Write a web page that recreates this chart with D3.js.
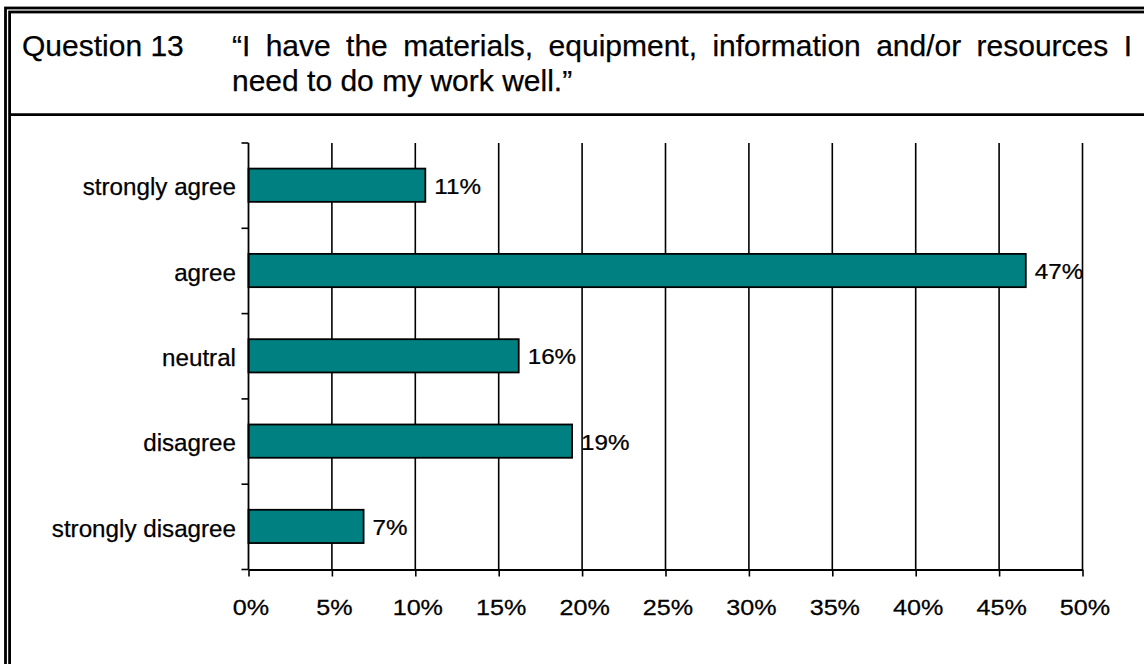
<!DOCTYPE html>
<html>
<head>
<meta charset="utf-8">
<script src="https://cdn.jsdelivr.net/npm/d3@7"></script>
<style>
  html, body { margin: 0; padding: 0; background: #fff; }
  svg { display: block; font-family: "Liberation Sans", Arial, sans-serif; }
</style>
</head>
<body>
<svg id="chart" width="1144" height="664"></svg>
<script>
// Survey responses, question 13
const questionLabel = "Question 13";
const questionLines = [
  "\u201CI have the materials, equipment, information and/or resources I",
  "need to do my work well.\u201D"
];
const categories = ["strongly agree", "agree", "neutral", "disagree", "strongly disagree"];
const percentages = [10.6, 46.6, 16.2, 19.4, 6.9];
const tickValues = [0, 5, 10, 15, 20, 25, 30, 35, 40, 45, 50];

const svg = d3.select("#chart");

// Double frame around the page
svg.append("rect").attr("x", 5.5).attr("y", 8).attr("width", 1300).attr("height", 800)
  .attr("fill", "none").attr("stroke", "#000").attr("stroke-width", 2.8);
svg.append("rect").attr("x", 9.6).attr("y", 12).attr("width", 1300).attr("height", 800)
  .attr("fill", "none").attr("stroke", "#000").attr("stroke-width", 2.8);
// Separator under the question header
svg.append("line").attr("x1", 9.6).attr("x2", 1144).attr("y1", 114.7).attr("y2", 114.7)
  .attr("stroke", "#000").attr("stroke-width", 2.8);

// Header text
const headerFont = 30;
const ink = { fill: "#000", stroke: "#000", "stroke-width": 0.25 };
function inked(sel) {
  Object.entries(ink).forEach(([k, v]) => sel.attr(k, v));
  return sel;
}
inked(svg.append("text").attr("x", 22).attr("y", 56).attr("font-size", headerFont))
  .text(questionLabel);

// First line is justified between the left and right text margins
const textLeft = 232, textRight = 1132;
(function justify(line, y) {
  const words = line.split(" ");
  const g = svg.append("g");
  const nodes = words.map(w => inked(g.append("text").attr("y", y).attr("font-size", headerFont)).text(w));
  const widths = nodes.map(n => n.node().getComputedTextLength());
  const total = d3.sum(widths);
  const gap = (textRight - textLeft - total) / (words.length - 1);
  let x = textLeft;
  nodes.forEach((n, i) => { n.attr("x", x); x += widths[i] + gap; });
})(questionLines[0], 56);
inked(svg.append("text").attr("x", textLeft).attr("y", 91).attr("font-size", headerFont))
  .text(questionLines[1]);

// Plot area
const plot = { left: 248.5, right: 1082.5, top: 143, bottom: 569.5 };

const x = d3.scaleLinear().domain([0, 50]).range([plot.left, plot.right]);
const slot = d3.scaleBand().domain(categories).range([plot.top, plot.bottom]).padding(0);
const barOffset = slot.bandwidth() * 0.3;
const barHeight = slot.bandwidth() * 0.39;

// Vertical gridlines
svg.append("g").selectAll("line")
  .data(tickValues.filter(v => v > 0))
  .join("line")
  .attr("x1", d => x(d)).attr("x2", d => x(d))
  .attr("y1", plot.top).attr("y2", plot.bottom)
  .attr("stroke", "#000").attr("stroke-width", 1.6);

// Bars
svg.append("g").selectAll("rect")
  .data(categories)
  .join("rect")
  .attr("x", x(0))
  .attr("y", d => slot(d) + barOffset)
  .attr("width", (d, i) => x(percentages[i]) - x(0))
  .attr("height", barHeight)
  .attr("fill", "#008080")
  .attr("stroke", "#000")
  .attr("stroke-width", 1.8);

// Value labels
const numScale = 1.1;
inked(svg.append("g").selectAll("text")
  .data(categories)
  .join("text")
  .attr("transform", (d, i) =>
    `translate(${x(percentages[i]) + 9},${slot(d) + slot.bandwidth() / 2 + 8}) scale(${numScale},1)`)
  .attr("font-size", 22))
  .text((d, i) => Math.round(percentages[i]) + "%");

// Category axis: ticks at slot boundaries
const yAxis = svg.append("g");
yAxis.append("line").attr("x1", plot.left).attr("x2", plot.left)
  .attr("y1", plot.top).attr("y2", plot.bottom)
  .attr("stroke", "#000").attr("stroke-width", 1.8);
const boundaries = categories.map(c => slot(c)).concat([plot.bottom]);
yAxis.selectAll("line.tick").data(boundaries).join("line").attr("class", "tick")
  .attr("x1", plot.left - 7).attr("x2", plot.left)
  .attr("y1", d => d).attr("y2", d => d)
  .attr("stroke", "#000").attr("stroke-width", 1.6);
inked(yAxis.selectAll("text").data(categories).join("text")
  .attr("x", 236)
  .attr("y", d => slot(d) + slot.bandwidth() / 2)
  .attr("dy", "0.4em")
  .attr("text-anchor", "end")
  .attr("font-size", 24.2))
  .text(d => d);

// Value axis along the bottom
const xAxis = d3.axisBottom(x)
  .tickValues(tickValues)
  .tickSize(7)
  .tickPadding(0)
  .tickSizeOuter(0)
  .tickFormat(d => d + "%");
const gx = svg.append("g").attr("transform", `translate(0,${plot.bottom})`).call(xAxis);
gx.select(".domain").attr("stroke", "#000").attr("stroke-width", 1.8);
gx.selectAll(".tick line").attr("stroke", "#000").attr("stroke-width", 1.6);
inked(gx.selectAll(".tick text")
  .attr("y", null).attr("dy", null)
  .attr("transform", `translate(2,45) scale(1.17,1)`)
  .attr("font-size", 21.5)
  .attr("font-family", "Liberation Sans, Arial, sans-serif"));
</script>
</body>
</html>
